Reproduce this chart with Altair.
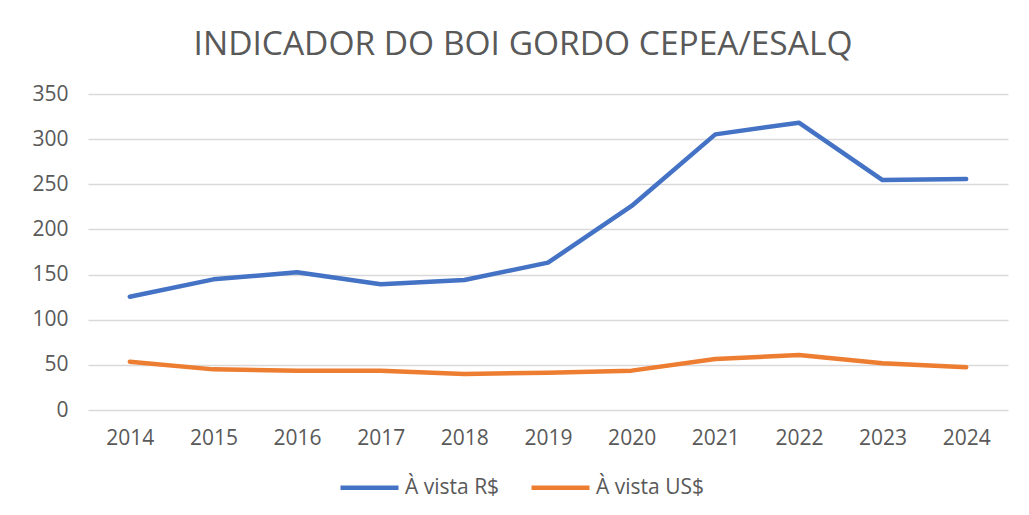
import altair as alt
import pandas as pd

years = ["2014", "2015", "2016", "2017", "2018", "2019", "2020", "2021", "2022", "2023", "2024"]
brl = [125.5, 144.7, 152.5, 139.2, 144.0, 163.2, 226.0, 305.3, 318.2, 254.7, 255.9]
usd = [53.5, 45.0, 43.6, 43.6, 39.9, 41.3, 43.6, 56.5, 60.9, 51.7, 47.3]
series_names = ["À vista R$", "À vista US$"]
colors = ["#4472C4", "#ED7D31"]

rows = []
for y, a, b in zip(years, brl, usd):
    rows.append({"ano": y, "serie": series_names[0], "valor": a})
    rows.append({"ano": y, "serie": series_names[1], "valor": b})
df = pd.DataFrame(rows)

FONT = "Open Sans"
GRAY = "#595959"

chart = alt.Chart(df).mark_line(strokeWidth=4.5, strokeCap="round", strokeJoin="round").encode(
    x=alt.X("ano:O", sort=years, title=None,
            scale=alt.Scale(type="point", padding=0.5),
            axis=alt.Axis(labelAngle=0, domain=False, ticks=False, grid=False,
                          labelPadding=17, labelFontSize=21, labelColor=GRAY, labelFont=FONT)),
    y=alt.Y("valor:Q", title=None,
            scale=alt.Scale(domain=[0, 350], nice=False),
            axis=alt.Axis(values=[0, 50, 100, 150, 200, 250, 300, 350], domain=False, ticks=False,
                          gridColor="#D9D9D9", gridWidth=1.5, labelPadding=20,
                          labelFontSize=21, labelColor=GRAY, labelFont=FONT)),
    color=alt.Color("serie:N", sort=series_names,
                    scale=alt.Scale(domain=series_names, range=colors),
                    legend=alt.Legend(title=None, orient="none", direction="horizontal",
                                      legendX=250, legendY=362,
                                      symbolType="stroke", symbolSize=3364, symbolStrokeWidth=4.5,
                                      labelFontSize=21, labelColor=GRAY, labelFont=FONT,
                                      labelOffset=4, columnPadding=22)),
).properties(
    width=920, height=316,
    title=alt.TitleParams("INDICADOR DO BOI GORDO CEPEA/ESALQ", font=FONT, fontSize=33.5,
                          fontWeight="normal", color=GRAY, anchor="middle", offset=21, dx=-25),
    autosize=alt.AutoSizeParams(type="none"),
    padding={"left": 80, "top": 86, "right": 10, "bottom": 95},
).configure_view(stroke=None)

chart.save("out.html", embed_options={"renderer": "svg", "actions": False})
